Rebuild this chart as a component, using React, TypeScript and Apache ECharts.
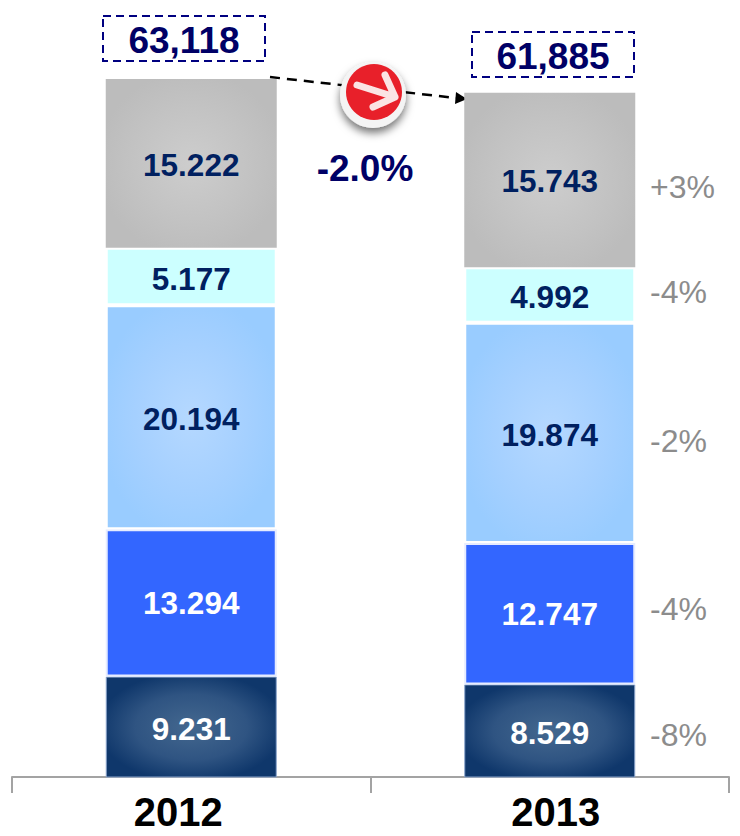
import React, { useEffect, useRef } from "react";
import * as echarts from "echarts";

const years = ["2012", "2013"];
const navy = [9.231, 8.529];
const blue = [13.294, 12.747];
const lightBlue = [20.194, 19.874];
const cyan = [5.177, 4.992];
const gray = [15.222, 15.743];
const totals = ["63,118", "61,885"];
const change = "-2.0%";
const deltas = ["+3%", "-4%", "-2%", "-4%", "-8%"];

const FONT = "'Liberation Sans', Arial, sans-serif";
const DARK = "#002060";

const radial = (edge: string, mid: string, center: string) =>
  new echarts.graphic.RadialGradient(0.5, 0.5, 0.55, [
    { offset: 0, color: center },
    { offset: 0.6, color: mid },
    { offset: 1, color: edge },
  ]);

const series = (
  name: string,
  data: number[],
  color: any,
  textColor: string,
  borderColor: string,
  borderWidth: number,
  labelDy: number,
) => ({
  name,
  type: "bar",
  stack: "total",
  data,
  barWidth: 171,
  itemStyle: { color, borderColor, borderWidth },
  label: {
    show: true,
    position: "inside",
    offset: [0, labelDy],
    color: textColor,
    fontFamily: FONT,
    fontWeight: "bold",
    fontSize: 31.5,
    formatter: (p: any) => p.value.toFixed(3),
  },
});

const deltaY = [187, 292, 441, 609, 735];

export default function App() {
  const ref = useRef<HTMLDivElement>(null);
  useEffect(() => {
    echarts.graphic.registerShape(
      "badgeArrow",
      echarts.graphic.extendPath(
        "M0 0 L38 12 M28 -10 L38 12 L16 22",
        {},
      ),
    );
    const chart = echarts.init(ref.current!, undefined, { renderer: "svg" });
    const box = (x: number, y: number, text: string) => [
      {
        type: "rect",
        shape: { x, y, width: 162, height: 45 },
        style: { fill: "none", stroke: "#000080", lineWidth: 2, lineDash: [8, 5] },
      },
      {
        type: "text",
        x: x + 81,
        y: y + 24,
        style: {
          text,
          fill: "#000066",
          font: `bold 37px ${FONT}`,
          align: "center",
          verticalAlign: "middle",
        },
      },
    ];
    const yearLabelStyle = {
      color: "#000",
      fontFamily: FONT,
      fontWeight: "bold" as const,
      fontSize: 40,
    };
    chart.setOption({
      animation: false,
      grid: { left: 12, right: 11, top: 79, bottom: 59 },
      xAxis: {
        type: "category",
        data: years,
        axisLine: { lineStyle: { color: "#a3a3a3", width: 2 } },
        axisTick: { show: true, length: 16, lineStyle: { color: "#a3a3a3", width: 2 } },
        axisLabel: {
          margin: 15,
          formatter: (v: string) => (v === years[0] ? `{a|${v}}` : `{b|${v}}`),
          rich: {
            a: { ...yearLabelStyle, padding: [0, 26, 0, 0] },
            b: { ...yearLabelStyle, padding: [0, 0, 0, 12] },
          },
        },
      },
      yAxis: { type: "value", min: 0.18, max: 63.118, show: false },
      series: [
        series("navy", navy, radial("#0f376b", "#2f5482", "#44688f"), "#fff", "#8aa4cc", 1, 2),
        series("blue", blue, "#3366ff", "#fff", "#e6ecff", 2, 0),
        series("lightBlue", lightBlue, radial("#99ccff", "#a5d0ff", "#b5d8ff"), DARK, "#ffffff", 2, 2),
        series("cyan", cyan, "#ccffff", DARK, "#ffffff", 2, 2),
        series("gray", gray, radial("#bcbcbc", "#c3c3c3", "#cdcdcd"), DARK, "transparent", 0, 1.5),
      ],
      graphic: [
        ...box(103, 16, totals[0]),
        ...box(472, 32, totals[1]),
        {
          type: "line",
          shape: { x1: 270, y1: 77, x2: 456, y2: 98 },
          style: { stroke: "#000", lineWidth: 2.5, lineDash: [10, 7] },
        },
        {
          type: "polygon",
          shape: { points: [[467, 99], [456, 92], [455, 104]] },
          style: { fill: "#000" },
        },
        {
          type: "circle",
          shape: { cx: 373, cy: 95, r: 33 },
          style: {
            fill: "#f4f4f4",
            shadowBlur: 9,
            shadowColor: "rgba(0,0,0,0.55)",
            shadowOffsetY: 5,
          },
        },
        {
          type: "circle",
          shape: { cx: 374, cy: 92, r: 28 },
          style: { fill: "#e8202a" },
        },
        {
          type: "badgeArrow",
          x: 357,
          y: 85,
          style: { fill: "none", stroke: "#fbe4e4", lineWidth: 7, lineCap: "round", lineJoin: "round" },
        },
        {
          type: "text",
          x: 365,
          y: 168,
          style: {
            text: change,
            fill: "#000066",
            font: `bold 37px ${FONT}`,
            align: "center",
            verticalAlign: "middle",
          },
        },
        ...deltas.map((text, i) => ({
          type: "text",
          x: 650,
          y: deltaY[i],
          style: {
            text,
            fill: "#8c8c8c",
            font: `32px ${FONT}`,
            align: "left",
            verticalAlign: "middle",
          },
        })),
      ],
    });
    return () => chart.dispose();
  }, []);
  return (
    <div
      ref={ref}
      style={{ position: "absolute", left: 0, top: 0, width: 740, height: 836 }}
    />
  );
}
